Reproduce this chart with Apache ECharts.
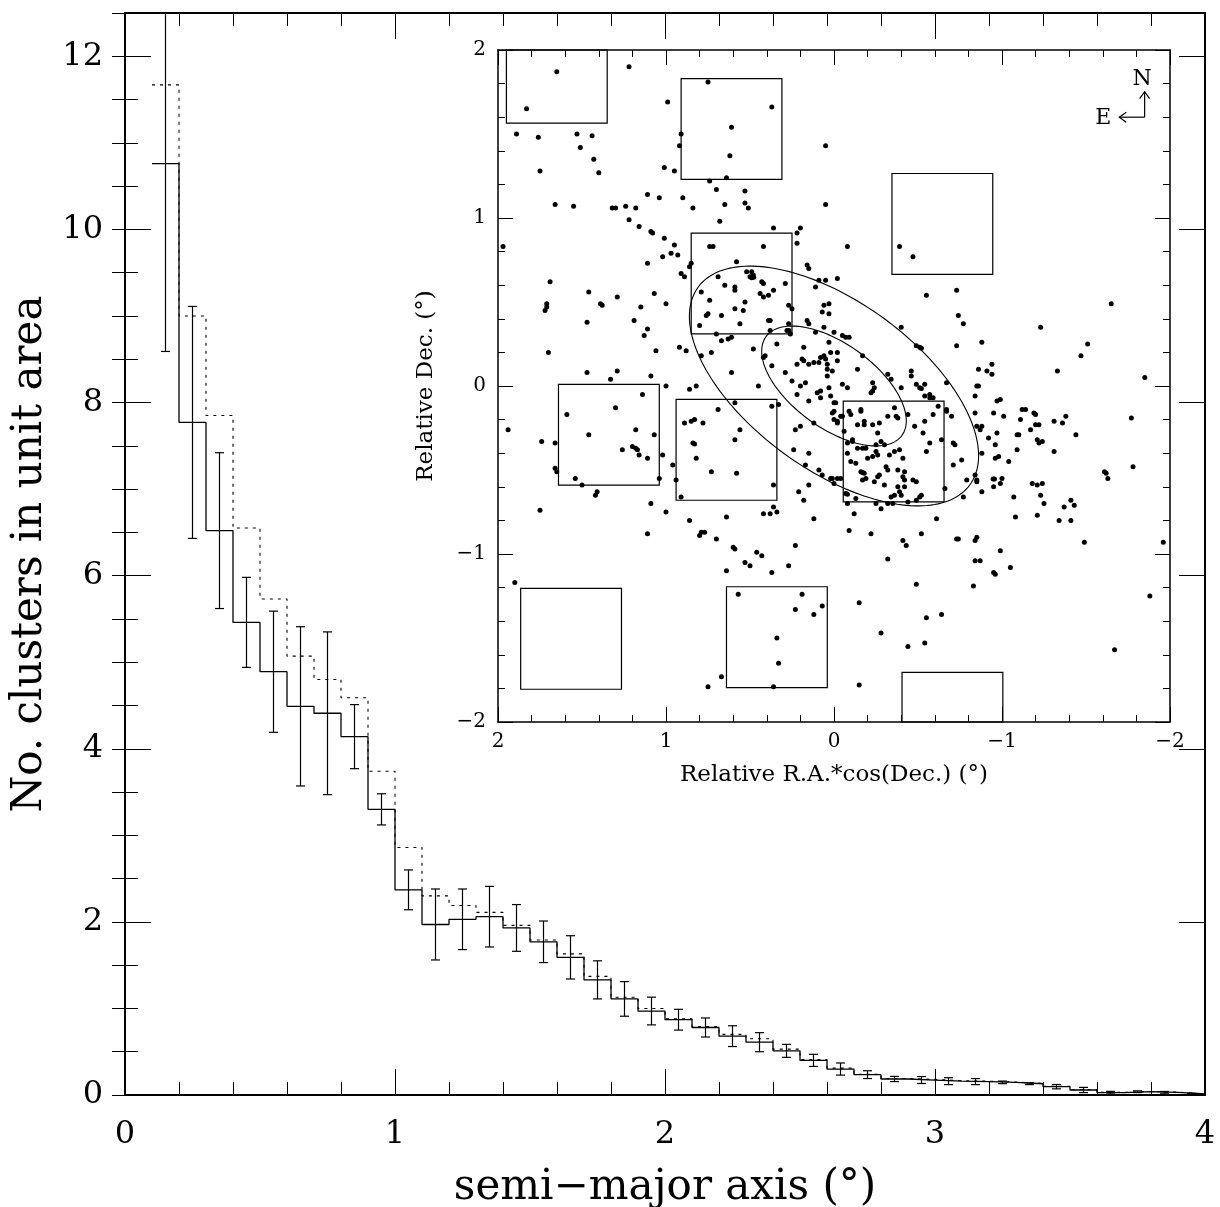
<!DOCTYPE html>
<html>
<head>
<meta charset="utf-8">
<script src="https://cdn.jsdelivr.net/npm/echarts@6/dist/echarts.min.js"></script>
<style>
html, body { margin: 0; background: #fff; }
#chart { width: 1220px; height: 1207px; }
</style>
</head>
<body>
<div id="chart"></div>
<script>
// histogram: 39 bins of 0.1 deg starting at 0.1
const binStart = 0.1;
const binWidth = 0.1;
const countsSolid = [10.76, 7.77, 6.52, 5.46, 4.89, 4.49, 4.41, 4.14, 3.30, 2.37,
  1.97, 2.03, 2.06, 1.93, 1.77, 1.59, 1.33, 1.11, 0.97, 0.87,
  0.78, 0.68, 0.61, 0.51, 0.40, 0.30, 0.235, 0.185, 0.173, 0.16,
  0.155, 0.146, 0.13, 0.096, 0.058, 0.027, 0.038, 0.031, 0.012];
const countsDotted = [11.67, 9.00, 7.85, 6.55, 5.73, 5.07, 4.80, 4.59, 3.74, 2.86,
  2.30, 2.19, 2.11, 1.96, 1.79, 1.63, 1.37, 1.13, 1.00, 0.88,
  0.79, 0.70, 0.65, 0.53, 0.41, 0.31, 0.24, 0.19, 0.18, 0.165,
  0.16, 0.15, 0.135, 0.10, 0.06, 0.03, 0.04, 0.033, 0.014];
const countsError = [2.17, 1.34, 0.90, 0.52, 0.70, 0.92, 0.94, 0.37, 0.18, 0.23,
  0.41, 0.35, 0.35, 0.27, 0.24, 0.25, 0.22, 0.20, 0.16, 0.12,
  0.11, 0.12, 0.11, 0.075, 0.07, 0.07, 0.045, 0.03, 0.04, 0.04,
  0.035, 0.015, 0.01, 0.025, 0.03, 0.015, 0.01, 0.01, 0.008];
const yMainMax = 12.5;

// inset: comparison fields (centre RA, Dec), 0.6 deg squares
const boxSize = 0.6;
const boxCentres = [[1.65, 1.865], [0.61, 1.53], [0.55, 0.61], [-0.645, 0.965],
  [1.34, -0.29], [0.64, -0.38], [1.565, -1.505], [0.34, -1.495],
  [-0.355, -0.39], [-0.705, -2.005]];
// ellipses: centre x, centre y, semi-major, semi-minor, angle (deg)
const ellipses = [[0, 0, 1.0, 0.5, 36], [0, 0, 0.5, 0.25, 36]];
// compass: corner x, corner y, E arrow tip x, N arrow tip y
const compass = [[-1.849, 1.600, -1.698, 1.752]];

const clusters = [
  [1.65,1.87],[1.83,1.65],[1.22,1.90],[0.99,1.69],[0.75,1.81],[0.37,1.66],[0.61,1.54],[0.62,1.37],[0.64,1.24],[0.91,1.50],
  [0.92,1.43],[1.89,1.50],[1.76,1.48],[1.53,1.50],[1.44,1.49],[1.51,1.42],[1.43,1.35],[1.75,1.28],[1.40,1.27],[1.01,1.30],
  [0.95,1.28],[0.05,1.43],[0.74,1.22],[0.70,1.17],[0.53,1.16],[1.11,1.14],[1.04,1.12],[0.90,1.12],[0.84,1.06],[0.65,1.08],
  [0.53,1.09],[0.51,1.06],[0.05,1.08],[1.66,1.08],[1.55,1.07],[1.32,1.06],[1.30,1.06],[1.24,1.07],[1.18,1.06],[1.22,0.99],
  [1.16,0.95],[0.68,0.98],[0.36,0.94],[0.20,0.94],[0.22,0.91],[1.09,0.92],[1.08,0.91],[1.01,0.88],[1.97,0.83],[0.95,0.84],
  [0.97,0.79],[0.93,0.78],[1.02,0.77],[1.11,0.73],[0.86,0.71],[0.91,0.67],[0.89,0.65],[1.69,0.62],[1.46,0.56],[1.29,0.53],
  [1.07,0.55],[1.39,0.49],[1.38,0.48],[1.71,0.49],[1.71,0.47],[1.72,0.45],[1.15,0.47],[1.00,0.49],[1.47,0.38],[1.19,0.39],
  [1.11,0.34],[1.13,0.30],[1.70,0.20],[1.06,0.21],[0.92,0.23],[0.88,0.21],[1.47,0.08],[1.29,0.09],[1.09,0.06],
  [-0.88,0.26],[-0.91,0.09],[-0.94,0.13],[-0.94,0.07],[-1.23,0.35],[-1.33,0.09],[-1.47,0.18],[-1.51,0.25],[-1.65,0.49],[-1.85,0.05],
  [1.33,0.04],[1.00,0.00],[1.94,-0.26],[1.74,-0.33],[1.66,-0.34],[1.59,-0.17],[1.46,-0.29],[1.30,-0.13],[1.14,-0.05],[1.18,-0.26],
  [1.26,-0.38],[1.20,-0.36],[1.18,-0.37],[1.17,-0.38],[1.16,-0.41],[1.11,-0.43],[1.07,-0.29],[1.02,-0.41],[1.04,-0.55],[1.66,-0.49],
  [1.65,-0.51],[1.54,-0.55],[1.50,-0.59],[1.42,-0.65],[1.41,-0.63],[1.75,-0.74],[1.09,-0.70],[1.11,-0.88],[1.00,-0.75],[0.96,-0.47],
  [0.94,-0.56],[0.91,-0.66],[0.89,-0.22],[0.86,-0.80],[0.80,-0.89],[0.79,-0.87],[0.77,-0.87],[0.70,-0.91],[0.60,-0.96],[0.59,-0.97],
  [0.64,-1.10],[0.53,-1.05],[0.50,-1.07],[0.46,-0.99],[0.43,-1.01],[0.37,-1.11],[0.27,-1.07],[0.23,-0.95],[1.90,-1.17],[0.57,-1.24],
  [0.19,-1.24],[0.23,-1.33],[0.12,-1.36],[0.07,-1.31],[0.34,-1.50],[0.33,-1.65],[0.36,-1.79],[0.67,-1.73],[0.75,-1.79],
  [-0.88,-0.40],[-0.88,-0.63],[-0.92,-0.31],[-0.96,-0.35],[-0.97,-0.28],[-0.96,-0.43],[-0.98,-0.42],[-0.947,-0.554],[-0.955,-0.554],[-0.95,-0.60],
  [-1.00,-0.55],[-0.99,-0.58],[-1.01,-0.18],[-0.99,-0.08],[-0.97,-0.09],[-0.95,-0.16],[-0.88,-0.24],[-0.87,-0.26],[-1.04,-0.45],[-1.07,-0.66],
  [-1.08,-0.78],[-1.09,-0.38],[-1.09,-0.29],[-1.10,-0.29],[-1.11,-0.20],[-1.12,-0.14],[-1.14,-0.14],[-1.17,-0.26],[-1.19,-0.16],[-1.20,-0.17],
  [-1.20,-0.23],[-1.22,-0.23],[-1.21,-0.32],[-1.22,-0.34],[-1.24,-0.33],[-1.18,-0.58],[-1.21,-0.59],[-1.24,-0.58],[-1.23,-0.65],[-1.25,-0.70],
  [-1.21,-0.77],[-1.31,-0.21],[-1.36,-0.22],[-1.38,-0.18],[-1.44,-0.29],[-1.31,-0.39],[-1.34,-0.80],[-1.37,-0.72],[-1.41,-0.68],[-1.43,-0.71],
  [-1.41,-0.80],[-1.49,-0.93],[-1.61,-0.51],[-1.62,-0.52],[-1.63,-0.55],[-1.77,-0.19],[-1.78,-0.48],[-1.96,-0.93],[-1.88,-1.25],[-1.67,-1.57],
  [-0.09,-0.86],[-0.22,-0.88],[-0.52,-0.88],[-0.41,-0.92],[-0.43,-0.95],[-0.32,-1.03],[-0.73,-0.91],[-0.74,-0.91],[-0.85,-0.90],[-0.84,-0.92],
  [-0.84,-1.04],[-0.87,-1.04],[-0.99,-0.98],[-0.95,-1.11],[-0.96,-1.12],[-1.05,-1.08],[-0.49,-1.18],[-0.83,-1.19],[-0.15,-1.29],[-0.55,-1.38],
  [-0.64,-1.36],[-0.28,-1.47],[-0.44,-1.55],[-0.54,-1.53],[-0.15,-1.78],
  [0.74,0.83],[0.72,0.83],[0.42,0.83],[0.22,0.85],[0.58,0.74],[0.85,0.73],[0.16,0.72],[0.15,0.70],[0.69,0.65],[0.52,0.68],
  [0.49,0.68],[0.48,0.66],[0.50,0.65],[0.49,0.645],[0.478,0.648],[0.43,0.62],[0.42,0.61],[0.29,0.61],[0.65,0.60],[0.59,0.59],
  [0.59,0.57],[0.36,0.57],[0.79,0.56],[0.44,0.55],[0.42,0.53],[0.39,0.54],[0.74,0.51],[0.53,0.50],[0.59,0.46],[0.54,0.45],
  [0.75,0.43],[0.76,0.42],[0.67,0.42],[0.27,0.48],[0.25,0.46],[0.39,0.39],[0.38,0.39],[0.56,0.37],[0.80,0.36],[0.27,0.37],
  [0.28,0.33],[0.268,0.33],[0.38,0.33],[0.16,0.39],[0.15,0.37],[0.06,0.35],[0.03,0.43],[0.07,0.44],[0.06,0.48],[0.03,0.49],
  [0.11,0.59],[0.09,0.63],[0.05,0.63],[0.70,0.31],[0.67,0.27],[0.63,0.28],[0.61,0.29],[0.73,0.20],[0.79,0.18],[0.48,0.22],
  [0.34,0.25],[0.26,0.31],[0.11,0.32],[0.18,0.23],[0.03,0.26],[0.02,0.20],[0.42,0.17],[0.41,0.18],[0.37,0.12],[0.22,0.13],
  [0.19,0.16],[0.18,0.15],[0.15,0.13],[0.12,0.14],[0.09,0.14],[0.08,0.17],[0.06,0.18],[0.05,0.16],[0.04,0.13],[0.04,0.10],
  [0.04,0.06],[0.61,0.08],[0.25,0.03],[0.29,0.08],
  [-0.08,0.83],[-0.39,0.83],[-0.47,0.77],[-0.02,0.64],[-0.55,0.54],[-0.73,0.57],[-0.74,0.42],[-0.77,0.37],[-0.73,0.24],[-0.86,0.10],
  [-0.40,0.35],[-0.49,0.24],[-0.51,0.23],[-0.52,0.225],[0.00,0.32],[-0.05,0.30],[-0.07,0.29],[-0.09,0.29],[-0.02,0.20],[-0.02,0.15],
  [-0.17,0.18],[-0.14,0.10],[0.01,0.09],[-0.32,0.07],[-0.34,0.04],[-0.46,0.09],[-0.46,0.06],
  [0.82,0.00],[0.86,-0.02],[0.45,0.00],[0.20,0.00],[0.17,0.02],[0.22,-0.05],[0.15,-0.09],[0.10,-0.04],[0.08,-0.03],[0.08,-0.07],
  [0.03,-0.01],[0.59,-0.10],[0.37,-0.12],[0.33,-0.11],[0.69,-0.14],[0.83,-0.20],[0.85,-0.21],[0.78,-0.22],[0.56,-0.26],[0.59,-0.32],
  [0.84,-0.34],[0.83,-0.345],[0.82,-0.43],[0.73,-0.51],[0.58,-0.52],[0.36,-0.59],[0.23,-0.26],[0.20,-0.24],[0.12,-0.22],[0.24,-0.38],
  [0.15,-0.40],[0.17,-0.47],[0.09,-0.50],[0.07,-0.53],[0.02,-0.55],[0.15,-0.59],[0.21,-0.63],[0.18,-0.68],[0.36,-0.72],[0.42,-0.76],
  [0.38,-0.76],[0.34,-0.75],[0.64,-0.78],[0.12,-0.79],
  [-0.05,0.01],[-0.08,-0.01],[-0.23,0.02],[-0.24,-0.01],[-0.23,-0.03],[-0.22,-0.04],[-0.40,-0.01],[-0.49,0.01],[-0.51,-0.01],[-0.52,-0.015],
  [-0.54,0.01],[-0.57,-0.05],[-0.54,-0.06],[-0.57,-0.07],[-0.59,-0.07],[-0.67,0.02],[-0.85,0.00],[-0.86,0.00],[-0.84,-0.06],[0.02,-0.06],
  [0.00,-0.10],[-0.01,-0.10],[-0.16,-0.14],[-0.16,-0.15],[-0.09,-0.15],[-0.10,-0.17],[-0.05,-0.18],[-0.04,-0.18],[0.00,-0.15],[0.01,-0.16],
  [0.00,-0.20],[-0.02,-0.21],[-0.02,-0.22],[-0.06,-0.27],[-0.14,-0.23],[-0.18,-0.21],[-0.18,-0.23],[-0.23,-0.23],[-0.27,-0.22],[-0.32,-0.18],
  [-0.36,-0.13],[-0.37,-0.18],[-0.38,-0.19],[-0.44,-0.17],[-0.48,-0.24],[-0.54,-0.21],[-0.59,-0.17],[-0.62,-0.12],[-0.67,-0.14],[-0.67,-0.15],
  [-0.70,-0.18],[-0.84,-0.16],[-0.26,-0.28],[-0.11,-0.32],[-0.11,-0.33],[-0.08,-0.34],[-0.28,-0.33],[-0.25,-0.35],[-0.30,-0.35],[-0.53,-0.28],
  [-0.57,-0.34],[-0.64,-0.32],[-0.71,-0.34],[-0.72,-0.35],[-0.85,-0.24],[-0.14,-0.37],[-0.17,-0.37],[-0.19,-0.37],[-0.08,-0.40],[-0.25,-0.39],
  [-0.26,-0.41],[-0.33,-0.41],[-0.36,-0.39],[-0.39,-0.38],[-0.55,-0.39],[-0.41,-0.43],[-0.20,-0.43],[-0.10,-0.45],[-0.13,-0.46],[-0.23,-0.42],
  [-0.31,-0.48],[-0.32,-0.50],[-0.38,-0.50],[-0.42,-0.51],[-0.16,-0.51],[-0.17,-0.515],[-0.18,-0.52],[-0.27,-0.53],[-0.26,-0.54],[-0.19,-0.55],
  [-0.17,-0.56],[-0.24,-0.57],[-0.30,-0.59],[-0.41,-0.54],[-0.42,-0.56],[-0.47,-0.56],[-0.49,-0.57],[-0.42,-0.60],[-0.38,-0.60],[-0.39,-0.63],
  [-0.36,-0.65],[-0.34,-0.66],[-0.40,-0.65],[-0.52,-0.65],[-0.51,-0.66],[-0.49,-0.68],[-0.44,-0.69],[-0.13,-0.67],[-0.07,-0.64],[-0.08,-0.645],
  [-0.08,-0.70],[-0.25,-0.70],[-0.32,-0.70],[-0.35,-0.70],[-0.28,-0.73],[-0.12,-0.76],[-0.61,-0.79],[-0.66,-0.61],[-0.77,-0.66],[-0.79,-0.56],
  [-0.76,-0.44],[-0.71,-0.47],[-0.84,-0.53],[-0.85,-0.56],[-0.85,-0.57],[0.01,-0.55],[-0.02,-0.55],[-0.04,-0.55],[0.00,-0.58]
];

const FONT = 'DejaVu Serif';
const black = '#000';

// step outlines and error bars from the bin arrays
const stepLine = (vals) => {
  const pts = [];
  vals.forEach((v, i) => {
    pts.push([binStart + i * binWidth, v]);
    pts.push([binStart + (i + 1) * binWidth, v]);
  });
  return pts;
};
const errorBars = countsSolid.map((v, i) => [binStart + (i + 0.5) * binWidth, v - countsError[i], v + countsError[i]]);

const lineStyle = (w) => ({ color: black, width: w });
const noLabel = { show: false };

const chart = echarts.init(document.getElementById('chart'));
const option = {
  animation: false,
  backgroundColor: '#fff',
  grid: [
    { left: 125, top: 13, width: 1080, height: 1082, outerBoundsMode: 'none', containLabel: false },
    { left: 498, top: 50, width: 672, height: 672, outerBoundsMode: 'none', containLabel: false }
  ],
  xAxis: [
    {
      gridIndex: 0, type: 'value', min: 0, max: 4, interval: 1, position: 'bottom',
      axisLine: { onZero: false, lineStyle: lineStyle(2) },
      axisTick: { inside: true, length: 26, lineStyle: lineStyle(1) },
      minorTick: { show: true, splitNumber: 5, length: 13, lineStyle: lineStyle(1) },
      splitLine: { show: false },
      axisLabel: { fontFamily: FONT, fontSize: 32, color: black, margin: 24 },
      name: 'semi\u2212major axis (\u00b0)', nameLocation: 'middle', nameGap: 72,
      nameTextStyle: { fontFamily: FONT, fontSize: 42, color: black }
    },
    {
      gridIndex: 0, type: 'value', min: 0, max: 4, interval: 1, position: 'top',
      axisLine: { onZero: false, lineStyle: lineStyle(2) },
      axisTick: { inside: true, length: 26, lineStyle: lineStyle(1) },
      minorTick: { show: true, splitNumber: 5, length: 13, lineStyle: lineStyle(1) },
      splitLine: { show: false }, axisLabel: noLabel
    },
    {
      gridIndex: 1, type: 'value', min: -2, max: 2, interval: 1, inverse: true, position: 'bottom',
      axisLine: { onZero: false, lineStyle: lineStyle(1.5) },
      axisTick: { inside: true, length: 15, lineStyle: lineStyle(1) },
      minorTick: { show: true, splitNumber: 5, length: 7, lineStyle: lineStyle(1) },
      splitLine: { show: false },
      axisLabel: { fontFamily: FONT, fontSize: 20, color: black, margin: 10,
        formatter: (v) => (v < 0 ? '\u2212' + (-v) : String(v)) },
      name: 'Relative R.A.*cos(Dec.) (\u00b0)', nameLocation: 'middle', nameGap: 42,
      nameTextStyle: { fontFamily: FONT, fontSize: 23, color: black }
    },
    {
      gridIndex: 1, type: 'value', min: -2, max: 2, interval: 1, inverse: true, position: 'top',
      axisLine: { onZero: false, lineStyle: lineStyle(1.5) },
      axisTick: { inside: true, length: 15, lineStyle: lineStyle(1) },
      minorTick: { show: true, splitNumber: 5, length: 7, lineStyle: lineStyle(1) },
      splitLine: { show: false }, axisLabel: noLabel
    }
  ],
  yAxis: [
    {
      gridIndex: 0, type: 'value', min: 0, max: yMainMax, interval: 2, position: 'left',
      axisLine: { show: true, onZero: false, lineStyle: lineStyle(2) },
      axisTick: { show: true, inside: true, length: 26, lineStyle: lineStyle(1) },
      splitLine: { show: false },
      axisLabel: { fontFamily: FONT, fontSize: 32, color: black, margin: 22, showMaxLabel: false },
      name: 'No. clusters in unit area', nameLocation: 'middle', nameGap: 64,
      nameTextStyle: { fontFamily: FONT, fontSize: 42, color: black }
    },
    {
      gridIndex: 0, type: 'value', min: 0, max: yMainMax, interval: 0.5, position: 'left',
      axisLine: { show: false }, splitLine: { show: false }, axisLabel: noLabel,
      axisTick: { show: true, inside: true, length: 13, lineStyle: lineStyle(1) }
    },
    {
      gridIndex: 0, type: 'value', min: 0, max: yMainMax, interval: 2, position: 'right',
      axisLine: { show: true, onZero: false, lineStyle: lineStyle(2) },
      axisTick: { show: true, inside: true, length: 26, lineStyle: lineStyle(1) },
      splitLine: { show: false }, axisLabel: noLabel
    },
    {
      gridIndex: 0, type: 'value', min: 0, max: yMainMax, interval: 0.5, position: 'right',
      axisLine: { show: false }, splitLine: { show: false }, axisLabel: noLabel,
      axisTick: { show: true, inside: true, length: 13, lineStyle: lineStyle(1) }
    },
    {
      gridIndex: 1, type: 'value', min: -2, max: 2, interval: 1, position: 'left',
      axisLine: { show: true, onZero: false, lineStyle: lineStyle(1.5) },
      axisTick: { show: true, inside: true, length: 15, lineStyle: lineStyle(1) },
      minorTick: { show: true, splitNumber: 5, length: 7, lineStyle: lineStyle(1) },
      splitLine: { show: false },
      axisLabel: { fontFamily: FONT, fontSize: 20, color: black, margin: 12,
        formatter: (v) => (v < 0 ? '\u2212' + (-v) : String(v)) },
      name: 'Relative Dec. (\u00b0)', nameLocation: 'middle', nameGap: 60,
      nameTextStyle: { fontFamily: FONT, fontSize: 23, color: black }
    },
    {
      gridIndex: 1, type: 'value', min: -2, max: 2, interval: 1, position: 'right',
      axisLine: { show: true, onZero: false, lineStyle: lineStyle(1.5) },
      axisTick: { show: true, inside: true, length: 15, lineStyle: lineStyle(1) },
      minorTick: { show: true, splitNumber: 5, length: 7, lineStyle: lineStyle(1) },
      splitLine: { show: false }, axisLabel: noLabel
    }
  ],
  series: [
    {
      type: 'line', xAxisIndex: 0, yAxisIndex: 0, data: stepLine(countsDotted),
      showSymbol: false, symbol: 'none',
      lineStyle: { color: black, width: 1.1, type: [3, 5] }
    },
    {
      type: 'line', xAxisIndex: 0, yAxisIndex: 0, data: stepLine(countsSolid),
      showSymbol: false, symbol: 'none',
      lineStyle: { color: black, width: 1.3 }
    },
    {
      type: 'custom', xAxisIndex: 0, yAxisIndex: 0, data: errorBars,
      renderItem: (params, api) => {
        const x = api.value(0), lo = api.value(1), hi = api.value(2);
        const pLo = api.coord([x, lo]);
        const pHi = api.coord([x, Math.min(hi, yMainMax)]);
        const half = 4.5;
        const st = { stroke: black, lineWidth: 1.2 };
        const children = [
          { type: 'line', shape: { x1: pLo[0], y1: pLo[1], x2: pHi[0], y2: pHi[1] }, style: st },
          { type: 'line', shape: { x1: pLo[0] - half, y1: pLo[1], x2: pLo[0] + half, y2: pLo[1] }, style: st }
        ];
        if (hi <= yMainMax) {
          children.push({ type: 'line', shape: { x1: pHi[0] - half, y1: pHi[1], x2: pHi[0] + half, y2: pHi[1] }, style: st });
        }
        return { type: 'group', children };
      }
    },
    {
      type: 'custom', xAxisIndex: 2, yAxisIndex: 4, data: boxCentres,
      renderItem: (params, api) => {
        const cx = api.value(0), cy = api.value(1);
        const p1 = api.coord([cx + boxSize / 2, cy + boxSize / 2]);
        const p2 = api.coord([cx - boxSize / 2, cy - boxSize / 2]);
        const cs = params.coordSys;
        const r = echarts.graphic.clipRectByRect(
          { x: Math.min(p1[0], p2[0]), y: Math.min(p1[1], p2[1]),
            width: Math.abs(p2[0] - p1[0]), height: Math.abs(p2[1] - p1[1]) },
          { x: cs.x, y: cs.y, width: cs.width, height: cs.height });
        if (!r) return;
        return { type: 'rect', shape: r, style: { fill: 'none', stroke: black, lineWidth: 1.2 } };
      }
    },
    {
      type: 'custom', xAxisIndex: 2, yAxisIndex: 4, data: ellipses,
      renderItem: (params, api) => {
        const cx = api.value(0), cy = api.value(1), a = api.value(2), b = api.value(3);
        const ang = api.value(4) * Math.PI / 180;
        const c = Math.cos(ang), s = Math.sin(ang);
        const pts = [];
        for (let k = 0; k <= 180; k++) {
          const t = k / 180 * 2 * Math.PI;
          const u = a * Math.cos(t), w = b * Math.sin(t);
          pts.push(api.coord([cx + u * c - w * s, cy + u * s + w * c]));
        }
        return { type: 'polyline', shape: { points: pts }, style: { fill: 'none', stroke: black, lineWidth: 1.1 } };
      }
    },
    {
      type: 'scatter', xAxisIndex: 2, yAxisIndex: 4, data: clusters,
      symbol: 'circle', symbolSize: 5, itemStyle: { color: black, opacity: 1 }
    },
    {
      type: 'custom', xAxisIndex: 2, yAxisIndex: 4, data: compass,
      renderItem: (params, api) => {
        const c = api.coord([api.value(0), api.value(1)]);
        const e = api.coord([api.value(2), api.value(1)]);
        const n = api.coord([api.value(0), api.value(3)]);
        const st = { stroke: black, lineWidth: 1.2, fill: 'none' };
        const tx = { fontFamily: FONT, fontSize: 22, fill: black, align: 'center', verticalAlign: 'middle' };
        return {
          type: 'group',
          children: [
            { type: 'line', shape: { x1: c[0], y1: c[1], x2: e[0], y2: e[1] }, style: st },
            { type: 'line', shape: { x1: c[0], y1: c[1], x2: n[0], y2: n[1] }, style: st },
            { type: 'polyline', shape: { points: [[e[0] + 7, e[1] - 5], e, [e[0] + 7, e[1] + 5]] }, style: st },
            { type: 'polyline', shape: { points: [[n[0] - 5, n[1] + 7], n, [n[0] + 5, n[1] + 7]] }, style: st },
            { type: 'text', style: Object.assign({ text: 'N', x: n[0] - 2.5, y: n[1] - 12 }, tx) },
            { type: 'text', style: Object.assign({ text: 'E', x: e[0] - 16, y: e[1] + 1 }, tx) }
          ]
        };
      }
    }
  ]
};
chart.setOption(option);
</script>
</body>
</html>
